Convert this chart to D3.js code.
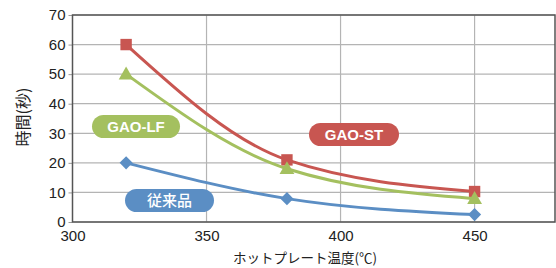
<!DOCTYPE html>
<html>
<head>
<meta charset="utf-8">
<script src="https://cdn.jsdelivr.net/npm/d3@7/dist/d3.min.js"></script>
<style>
body { margin: 0; background: #fff; }
text { font-family: "Liberation Sans", Arial, sans-serif; }
.jp { font-family: "Noto Sans CJK JP", sans-serif; }
.grid line { stroke: #b4b4b4; stroke-width: 1.2px; }
.axis text { font-size: 15px; fill: #222; }
.axis line { stroke: #999; }
.axis path { display: none; }
.series { fill: none; stroke-width: 3px; }
.pill text { font-size: 15px; font-weight: bold; fill: #fff; }
</style>
</head>
<body>
<svg id="chart" width="556" height="268"></svg>
<script>
// data
var temps = [320, 380, 450];
var gaoSt = [60, 21, 10.3];
var gaoLf = [50, 18, 7.9];
var conventional = [20, 7.9, 2.5];

var xTicks = [300, 350, 400, 450];
var yTicks = [0, 10, 20, 30, 40, 50, 60, 70];

var series = [
    {name: "GAO-ST", values: gaoSt, color: "#c85651", shape: "square", label: [354, 134.5], w: 90},
    {name: "GAO-LF", values: gaoLf, color: "#a4c05f", shape: "triangle", label: [136, 126.5], w: 88},
    {name: "従来品", values: conventional, color: "#5b8ec4", shape: "diamond", label: [169.5, 200.5], w: 89, jp: true}
];

var svg = d3.select("#chart");
var plotL = 72.5, plotR = 555, plotT = 15, plotB = 222;

var x = d3.scaleLinear().domain([300, 480]).range([plotL, plotR]);
var y = d3.scaleLinear().domain([0, 70]).range([plotB, plotT]);

// grid
var grid = svg.append("g").attr("class", "grid");
grid.selectAll(".h").data(yTicks).enter().append("line")
    .attr("x1", plotL).attr("x2", plotR)
    .attr("y1", function(d) { return y(d); })
    .attr("y2", function(d) { return y(d); });
grid.selectAll(".v").data(xTicks.slice(1)).enter().append("line")
    .attr("y1", plotT).attr("y2", plotB)
    .attr("x1", function(d) { return x(d); })
    .attr("x2", function(d) { return x(d); });

// axes
svg.append("g").attr("class", "axis")
    .attr("transform", "translate(" + plotL + ",0)")
    .call(d3.axisLeft(y).tickValues(yTicks).tickSize(4).tickPadding(3));

svg.append("g").attr("class", "axis")
    .attr("transform", "translate(0," + plotB + ")")
    .call(d3.axisBottom(x).tickValues(xTicks).tickSize(0).tickPadding(8));

// frame
svg.append("rect")
    .attr("x", plotL).attr("y", plotT)
    .attr("width", plotR - plotL).attr("height", plotB - plotT)
    .attr("fill", "none").attr("stroke", "#555").attr("stroke-width", 1.5);

// titles
svg.append("text")
    .attr("class", "jp")
    .attr("x", 305).attr("y", 263)
    .attr("text-anchor", "middle")
    .style("font-size", "13.5px").style("fill", "#222")
    .text("ホットプレート温度(℃)");

svg.append("text")
    .attr("class", "jp")
    .attr("transform", "translate(29,117) rotate(-90)")
    .attr("text-anchor", "middle")
    .style("font-size", "16px").style("fill", "#222")
    .text("時間(秒)");

// lines
var line = d3.line()
    .x(function(d, i) { return x(temps[i]); })
    .y(function(d) { return y(d); })
    .curve(d3.curveMonotoneX);

var symbols = {
    square: d3.symbol().type(d3.symbolSquare).size(130),
    triangle: d3.symbol().type(d3.symbolTriangle).size(95),
    diamond: d3.symbol().type(d3.symbolSquare).size(85)
};

series.forEach(function(s) {
    svg.append("path")
        .attr("class", "series")
        .attr("stroke", s.color)
        .attr("d", line(s.values));

    svg.selectAll(null).data(s.values).enter().append("path")
        .attr("fill", s.color)
        .attr("transform", function(d, i) {
            var t = "translate(" + x(temps[i]) + "," + y(d) + ")";
            if (s.shape === "diamond") t += " rotate(45)";
            if (s.shape === "triangle") t += " translate(0,1)";
            return t;
        })
        .attr("d", symbols[s.shape]());
});

// labels
series.forEach(function(s) {
    var g = svg.append("g").attr("class", "pill")
        .attr("transform", "translate(" + s.label[0] + "," + s.label[1] + ")");
    g.append("rect")
        .attr("x", -s.w / 2).attr("y", -11.5)
        .attr("width", s.w).attr("height", 23)
        .attr("rx", 11.5)
        .attr("fill", s.color);
    g.append("text")
        .attr("class", s.jp ? "jp" : null)
        .attr("text-anchor", "middle")
        .attr("dy", "0.36em")
        .style("font-weight", s.jp ? "500" : "bold")
        .text(s.name);
});
</script>
</body>
</html>
